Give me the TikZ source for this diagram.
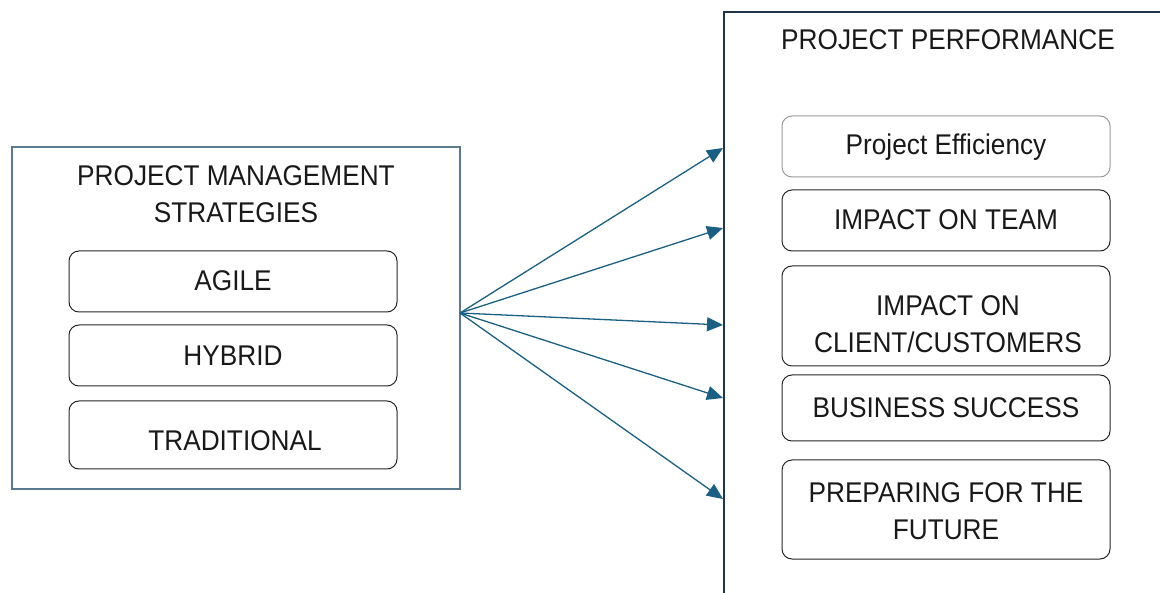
\documentclass[tikz,border=0pt]{standalone}
\usepackage{fontspec}
\setmainfont{Liberation Sans}[FakeStretch=0.92]
\usetikzlibrary{arrows.meta}
\definecolor{outerleft}{HTML}{5B7A8E}
\definecolor{outerright}{HTML}{1E3448}
\definecolor{arrowblue}{HTML}{1B5F82}
\definecolor{softgray}{HTML}{9A9A9A}
\begin{document}
\begin{tikzpicture}[x=1pt,y=-1pt,
  panel/.style={draw, line width=1.2pt, inner sep=0pt},
  item/.style={draw=black!85, line width=1pt, rounded corners=10pt, minimum width=328pt,
    inner sep=0pt},
  label/.style={align=center, inner sep=0pt, font=\fontsize{28.5}{37}\selectfont, text=black!90},
  link/.style={draw=arrowblue, line width=1.3pt, -{Triangle[length=16pt,width=14pt]}}]
\useasboundingbox (0,0) rectangle (1160,593);
\clip (0,0) rectangle (1160,593);
% left panel: strategies
\node[panel, draw=outerleft, minimum width=448pt, minimum height=342pt] (strat) at (236,318) {};
\node[label] (strattitle) at (236,194) {PROJECT MANAGEMENT\\STRATEGIES};
\node[item, minimum height=61pt] (agile) at (233,281.5) {};
\node[label] (agiletext) at (233,281) {AGILE};
\node[item, minimum height=61pt] (hybrid) at (233,355.5) {};
\node[label] (hybridtext) at (233,356) {HYBRID};
\node[item, minimum height=68pt] (trad) at (233,435) {};
\node[label] (tradtext) at (235,441) {TRADITIONAL};
% right panel: performance (runs past the page edge)
\draw[line width=1.2pt, outerright] (1200,12) -- (724,12) -- (724,620);
\node[label] (perftitle) at (948,40) {PROJECT PERFORMANCE};
\node[item, draw=softgray, minimum height=61pt] (eff) at (946,146.5) {};
\node[label] (efftext) at (946,147) {Project Efficiency};
\node[item, minimum height=61pt] (team) at (946,220.5) {};
\node[label] (teamtext) at (946,220) {IMPACT ON TEAM};
\node[item, minimum height=100pt] (client) at (946,316) {};
\node[label] (clienttext) at (948,324.5) {IMPACT ON\\CLIENT/CUSTOMERS};
\node[item, minimum height=66pt] (biz) at (946,408) {};
\node[label] (biztext) at (946,408) {BUSINESS SUCCESS};
\node[item, minimum height=99pt] (future) at (946,509.5) {};
\node[label] (futuretext) at (946,511) {PREPARING FOR THE\\FUTURE};
% connectors
\coordinate (src) at (460,313);
\coordinate (t1) at (723,148);
\coordinate (t2) at (723,228);
\coordinate (t3) at (723,325);
\coordinate (t4) at (723,398);
\coordinate (t5) at (723,499);
\foreach \t in {t1,t2,t3,t4,t5} \draw[link] (src) -- (\t);
\end{tikzpicture}
\end{document}
